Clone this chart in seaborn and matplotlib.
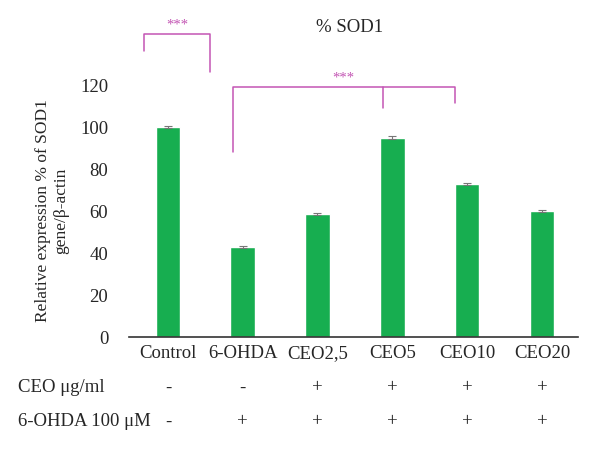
import seaborn as sns
import pandas as pd
import numpy as np
import matplotlib.pyplot as plt

groups=['Control','6-OHDA','CEO2,5','CEO5','CEO10','CEO20']
sod1=[100,43,58.5,95,73,60]
sod1_err=[0.5,0.5,0.5,0.5,0.5,0.5]
ceo_row=['-','-','+','+','+','+']
ohda_row=['-','+','+','+','+','+']
row_names=['CEO \u03bcg/ml','6-OHDA 100 \u03bcM']
yticks=[0,20,40,60,80,100,120]

sns.set_style('white')
plt.rcParams['font.family']=['Liberation Serif','DejaVu Serif']

df=pd.DataFrame({'group':groups,'sod1':sod1})

fig=plt.figure(figsize=(6,4.5),dpi=100)
ax=fig.add_axes([0.215,0.251,0.748,0.56])
sns.barplot(data=df,x='group',y='sod1',color='#17ae50',width=0.33,saturation=1,errorbar=None,ax=ax)
ax.errorbar(x=np.arange(len(groups)),y=sod1,yerr=sod1_err,fmt='none',ecolor='#777777',elinewidth=0.8,capsize=3,capthick=0.8)

ax.set_xlim(-0.52,5.48)
ax.set_ylim(0,120)
ax.set_yticks(yticks)
ax.tick_params(axis='both',length=0,labelsize=13.5)
ax.tick_params(axis='y',pad=15)
ax.tick_params(axis='x',pad=6)
for s in ['left','top','right']:
    ax.spines[s].set_visible(False)
ax.spines['bottom'].set_color('#333333')
ax.spines['bottom'].set_linewidth(1.2)
ax.set_xlabel('')
ax.set_ylabel('Relative expression % of SOD1\ngene/\u03b2-actin',fontsize=12.5,labelpad=8)

# significance brackets
mag='#c355b4'
def line(xs,ys):
    ax.plot(xs,ys,color=mag,lw=1.1,clip_on=False)
line([-0.32,-0.32,0.56,0.56],[136.2,144.3,144.3,126.2])
ax.text(0.12,145.5,'***',color=mag,ha='center',va='bottom',fontsize=10.5)
line([0.87,0.87,3.84,3.84],[88,119,119,111.4])
line([2.87,2.87],[119,109])
ax.text(2.35,120.2,'***',color=mag,ha='center',va='bottom',fontsize=10.5)

fig.text(0.583,0.938,'% SOD1',ha='center',va='center',fontsize=13.5)

# treatment table under the axis
for r,(name,row) in enumerate(zip(row_names,[ceo_row,ohda_row])):
    yf=1-(388+r*34)/450
    fig.text(0.03,yf,name,ha='left',va='center',fontsize=13.5)
    for i,sign in enumerate(row):
        xf=ax.transData.transform((i,0))[0]/fig.bbox.width
        fig.text(xf,yf,sign,ha='center',va='center',fontsize=13.5)

fig.savefig('out.png',dpi=100)
